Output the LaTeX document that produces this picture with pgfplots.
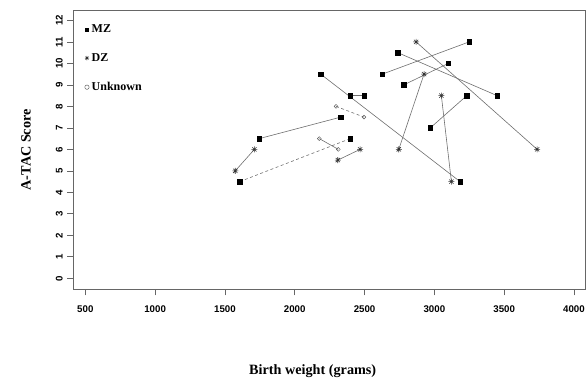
\documentclass[border=0pt]{standalone}
\usepackage{fontspec}
\setmainfont{Liberation Serif}
\newfontfamily\arialfont{Liberation Sans}
\usepackage{pgfplots}
\pgfplotsset{compat=1.18}
\pgfdeclareplotmark{rstar}{%
 \pgfpathmoveto{\pgfqpoint{-\pgfplotmarksize}{0pt}}\pgfpathlineto{\pgfqpoint{\pgfplotmarksize}{0pt}}%
 \pgfpathmoveto{\pgfqpoint{0pt}{-\pgfplotmarksize}}\pgfpathlineto{\pgfqpoint{0pt}{\pgfplotmarksize}}%
 \pgfpathmoveto{\pgfqpoint{-.707\pgfplotmarksize}{-.707\pgfplotmarksize}}\pgfpathlineto{\pgfqpoint{.707\pgfplotmarksize}{.707\pgfplotmarksize}}%
 \pgfpathmoveto{\pgfqpoint{-.707\pgfplotmarksize}{.707\pgfplotmarksize}}\pgfpathlineto{\pgfqpoint{.707\pgfplotmarksize}{-.707\pgfplotmarksize}}%
 \pgfusepathqstroke}
\definecolor{lgray}{HTML}{6E6E6E}
\begin{document}
\begin{tikzpicture}
\useasboundingbox (0,0) rectangle (586pt,379pt);
\begin{axis}[
  at={(73.3pt,89.7pt)}, anchor=south west,
  scale only axis, width=512pt, height=279pt,
  xmin=414, xmax=4081, ymin=-0.51, ymax=12.47,
  xtick={500,1000,...,4000}, ytick={0,1,...,12},
  axis line style={draw=black!60, line width=0.7pt},
  tick style={draw=black!60, line width=0.7pt},
  tick align=outside, major tick length=6pt,
  xtick pos=bottom, ytick pos=left,
  /pgf/number format/assume math mode=true,
  /pgf/number format/1000 sep={},
  ticklabel style={font=\arialfont\bfseries\fontsize{9.7}{10}\selectfont},
  xticklabel style={anchor=center, yshift=-14pt},
  yticklabel style={rotate=90, anchor=center, yshift=8pt},
  xlabel={Birth weight (grams)},
  ylabel={A-TAC Score},
  label style={font=\bfseries\fontsize{14.2}{16}\selectfont},
  xlabel style={at={(axis description cs:0.4676,-0.2928)}, anchor=center},
  ylabel style={at={(axis description cs:-0.0924,0.5)}, anchor=center},
  legend style={draw=none, fill=none, at={(axis description cs:0.022,0.955)}, anchor=north west,
     font=\bfseries\fontsize{12}{14}\selectfont, row sep=16.5pt, inner sep=0pt,
     nodes={inner sep=1.5pt}},
  legend cell align=left,
  legend image code/.code={\draw[#1] plot coordinates {(0pt,0pt)};\path (3pt,0pt);},
  mz/.style={draw=lgray, line width=0.6pt, mark=square*, mark size=2.2pt, mark options={solid, fill=black, draw=black}},
  dz/.style={draw=lgray, line width=0.6pt, mark=rstar, mark size=3pt, mark options={solid, draw=black!80, line width=0.55pt}},
  un/.style={draw=lgray, line width=0.6pt, mark=o, mark size=1.9pt, mark options={solid, draw=black!65, line width=0.45pt}},
  dsh/.style={dash pattern=on 3pt off 2.5pt},
]
% legend
\addlegendimage{only marks, mark=square*, mark size=1.5pt, fill=black}
\addlegendentry{MZ}
\addlegendimage{only marks, mark=rstar, mark size=2.2pt, draw=black!80, line width=0.45pt}
\addlegendentry{DZ}
\addlegendimage{only marks, mark=o, mark size=2.2pt, draw=black!65, line width=0.45pt}
\addlegendentry{Unknown}
% MZ pairs
\addplot[mz] coordinates {(1746,6.5) (2329,7.5)};
\addplot[mz] coordinates {(2186,9.5) (3184,4.5)};
\addplot[mz] coordinates {(2398,8.5) (2496,8.5)};
\addplot[mz] coordinates {(2627,9.5) (3249,11)};
\addplot[mz] coordinates {(2738,10.5) (3449,8.5)};
\addplot[mz] coordinates {(2781,9) (3100,10)};
\addplot[mz] coordinates {(2971,7) (3232,8.5)};
\addplot[mz, dsh] coordinates {(1606,4.5) (2398,6.5)};
% DZ pairs
\addplot[dz] coordinates {(1574,5) (1711,6)};
\addplot[dz] coordinates {(2308,5.5) (2468,6)};
\addplot[dz] coordinates {(2745,6) (2926,9.5)};
\addplot[dz] coordinates {(2869,11) (3736,6)};
\addplot[dz] coordinates {(3050,8.5) (3122,4.5)};
% Unknown pairs
\addplot[un, dsh] coordinates {(2296,8) (2496,7.5)};
\addplot[un] coordinates {(2176,6.5) (2312,6)};
\end{axis}
\end{tikzpicture}
\end{document}
